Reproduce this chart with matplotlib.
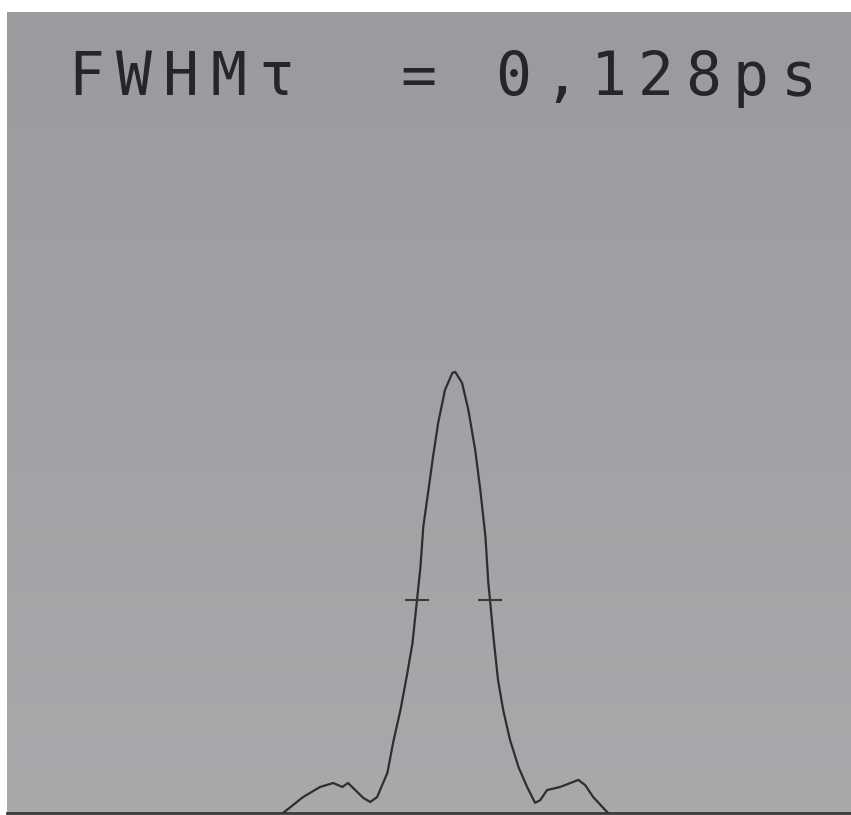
import numpy as np
import matplotlib.pyplot as plt

# autocorrelation trace (time in ps, intensity normalised)
t_ps = [-0.302, -0.267, -0.237, -0.214, -0.198, -0.188, -0.161, -0.149, -0.137,
        -0.119, -0.109, -0.096, -0.084, -0.075, -0.067, -0.061, -0.056, -0.047,
        -0.039, -0.030, -0.018, -0.005, 0.000, 0.012, 0.023, 0.035, 0.044, 0.053,
        0.058, 0.061, 0.067, 0.075, 0.084, 0.096, 0.111, 0.126, 0.140, 0.149,
        0.161, 0.184, 0.202, 0.216, 0.228, 0.242, 0.260, 0.268]
intensity = [0.000, 0.036, 0.059, 0.068, 0.059, 0.068, 0.034, 0.025, 0.036,
             0.091, 0.159, 0.234, 0.317, 0.385, 0.483, 0.558, 0.649, 0.732,
             0.807, 0.884, 0.959, 0.998, 1.000, 0.975, 0.914, 0.823, 0.732, 0.626,
             0.522, 0.483, 0.399, 0.302, 0.234, 0.166, 0.104, 0.059, 0.023, 0.029,
             0.052, 0.059, 0.068, 0.075, 0.063, 0.036, 0.011, 0.000]

# half maximum cursor marks
fwhm_t = [-0.067, 0.061]
fwhm_level = [0.483, 0.483]

label = "FWHM\u03c4  = 0,128ps"

fig = plt.figure(figsize=(8.51, 8.15), dpi=100, facecolor='white')
ax = fig.add_axes([7/851, 2/815, 844/851, 801/815])

xmin, xmax = -0.786, 0.694
ymin, ymax = 0.0, 1.816
ax.set_xlim(xmin, xmax)
ax.set_ylim(ymin, ymax)

# screen background, slightly darker at the top
grad = np.linspace(0, 1, 256).reshape(-1, 1)
ax.imshow(grad, extent=[0, 1, 0, 1], transform=ax.transAxes, aspect='auto',
          cmap=plt.matplotlib.colors.LinearSegmentedColormap.from_list(
              'scr', ['#a8a9ab', '#9a9b9f']), origin='lower', zorder=0)

ax.plot(t_ps, intensity, color='#2e2e30', lw=1.6, zorder=3)
ax.plot(fwhm_t, fwhm_level, ls='none', marker='_', ms=17, mew=1.5,
        color='#3a3a3c', zorder=3)

# monospaced readout, one character cell per glyph
pitch = 47.5 / 844
x0 = (68 - 7) / 844
for i, ch in enumerate(label):
    ax.text(x0 + i * pitch, (813 - 95) / 801, ch, transform=ax.transAxes,
            family='DejaVu Sans Mono', fontsize=43, color='#262628',
            ha='left', va='baseline', zorder=4)

ax.set_xticks([])
ax.set_yticks([])
for s in ['top', 'left', 'right']:
    ax.spines[s].set_visible(False)
ax.spines['bottom'].set_color('#3a3a3c')
ax.spines['bottom'].set_linewidth(2)

fig.savefig('out.png', dpi=100)
